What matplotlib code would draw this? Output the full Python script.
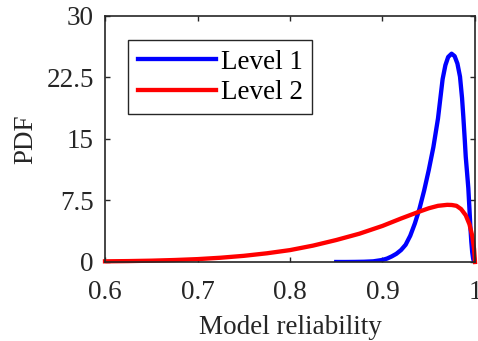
import matplotlib.pyplot as plt

# values
level1_x = [0.850, 0.860, 0.870, 0.880, 0.890, 0.900, 0.905, 0.910, 0.915, 0.920,
            0.925, 0.930, 0.935, 0.940, 0.945, 0.950, 0.955, 0.960, 0.965, 0.968,
            0.971, 0.9747, 0.978, 0.981, 0.9838, 0.986, 0.9874, 0.989, 0.990, 0.9915,
            0.9928, 0.994, 0.995, 0.996, 0.997, 0.998, 0.999]
level1_y = [0.0, 0.0, 0.01, 0.03, 0.08, 0.25, 0.42, 0.68, 1.0, 1.45,
            2.1, 3.2, 4.7, 6.5, 8.7, 11.2, 14.0, 17.5, 22.3, 24.0,
            25.0, 25.4, 25.1, 24.2, 22.6, 20.0, 17.7, 14.8, 12.84, 10.8,
            9.0, 6.5, 4.3, 2.5, 1.2, 0.4, 0.0]

level2_x = [0.600, 0.625, 0.650, 0.675, 0.700, 0.725, 0.750, 0.775, 0.800, 0.825,
            0.850, 0.875, 0.900, 0.920, 0.940, 0.950, 0.960, 0.970, 0.975, 0.980,
            0.985, 0.990, 0.994, 0.997, 0.999, 1.000]
level2_y = [0.08, 0.11, 0.16, 0.24, 0.35, 0.52, 0.75, 1.06, 1.45, 2.0,
            2.68, 3.45, 4.4, 5.3, 6.15, 6.55, 6.85, 6.97, 6.95, 6.85,
            6.45, 5.7, 4.6, 3.2, 1.6, 0.0]

xticks = [0.6, 0.7, 0.8, 0.9, 1.0]
xtick_labels = ['0.6', '0.7', '0.8', '0.9', '1']
yticks = [0, 7.5, 15, 22.5, 30]
ytick_labels = ['0', '7.5', '15', '22.5', '30']

plt.rcParams['font.family'] = ['Liberation Serif', 'DejaVu Serif']
plt.rcParams['font.size'] = 19.5

fig = plt.figure(figsize=(4.78, 3.41), dpi=100)
ax = fig.add_axes([0.2197, 0.2317, 0.774, 0.7214])

ax.plot(level1_x, level1_y, color='#0000ff', lw=3.1, label='Level 1',
        solid_joinstyle='round')
ax.plot(level2_x, level2_y, color='#ff0000', lw=3.1, label='Level 2',
        solid_joinstyle='round', clip_on=False)

ax.set_xlim(0.6, 1.0)
ax.set_ylim(0, 30)
ax.set_xticks(xticks)
ax.set_xticklabels(xtick_labels)
ax.set_yticks(yticks)
ax.set_yticklabels(ytick_labels)
ax.tick_params(direction='in', length=3.5, width=1.0, top=True, right=True,
               colors='#262626', labelcolor='#262626')
ax.tick_params(axis='x', pad=13)
ax.tick_params(axis='y', pad=8)
for s in ax.spines.values():
    s.set_linewidth(1.2)
    s.set_color('#262626')

ax.set_xlabel('Model reliability', color='#262626', labelpad=7)
ax.set_ylabel('PDF', color='#262626', labelpad=6)

leg = ax.legend(loc='upper left', bbox_to_anchor=(0.063, 0.902), borderaxespad=0,
                handlelength=2.9, handletextpad=0.16, labelspacing=0.2,
                borderpad=0.35, fancybox=False, framealpha=1)
leg.get_frame().set_edgecolor('#262626')
leg.get_frame().set_linewidth(1.0)

fig.savefig('out.png', dpi=100)
